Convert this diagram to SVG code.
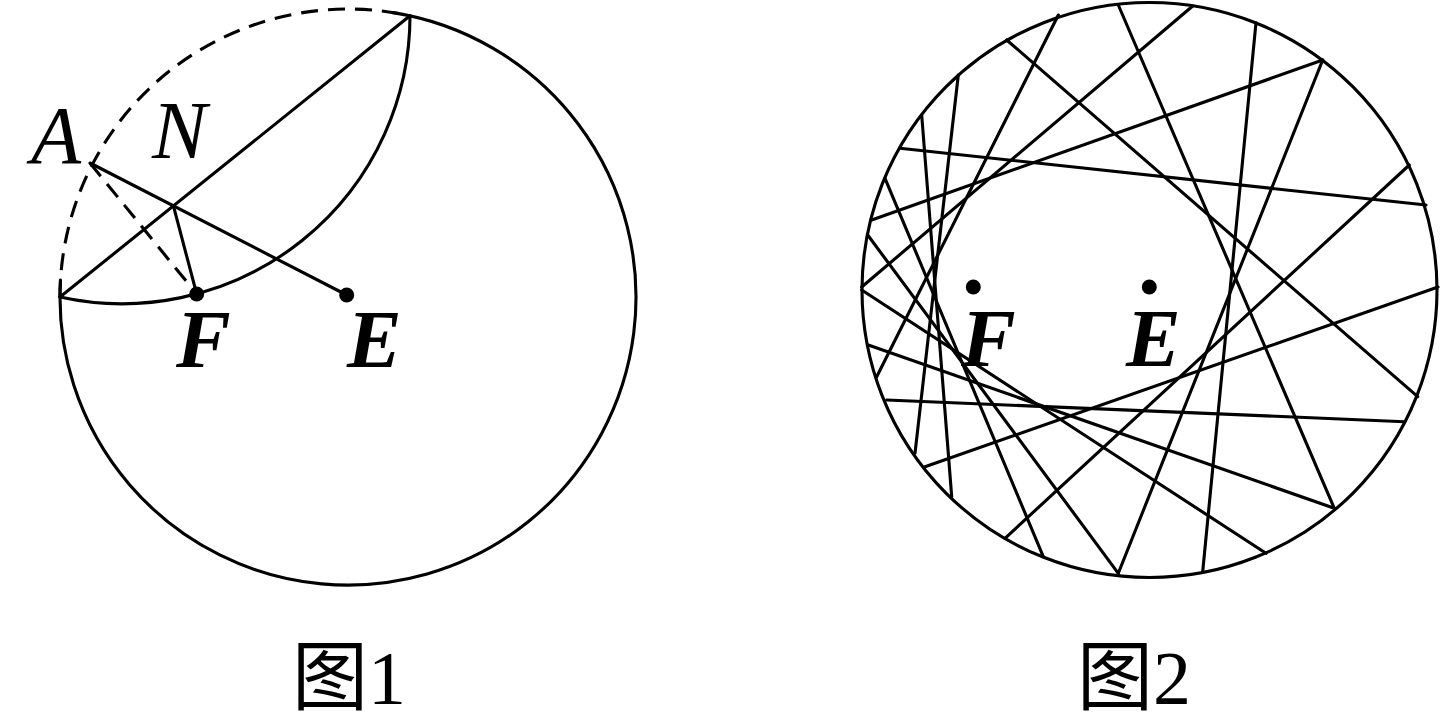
<svg xmlns="http://www.w3.org/2000/svg" width="1441" height="724" viewBox="0 0 1441 724">
<style>
.ln{fill:none;stroke:#000;stroke-width:3.1;stroke-linecap:round}
.dash{fill:none;stroke:#000;stroke-width:3.1;stroke-dasharray:17 10}
.dot{fill:#000}
.lbl{font-family:"Liberation Serif","Times New Roman",serif;font-style:italic;font-size:82px;fill:#000}
.lblb{font-family:"Liberation Serif","Times New Roman",serif;font-style:italic;font-weight:bold;font-size:82px;fill:#000}
.cap{font-family:"Liberation Serif","Noto Sans CJK SC",serif;font-size:76px;fill:#000}
</style>
<rect width="1441" height="724" fill="#fff"/>
<g id="figure1">
  <path class="dash" d="M60,297 A288,288 0 0 1 410,15.8"/>
  <path class="ln" d="M393,12.6 A288,288 0 1 1 60.5,280"/>
  <path class="ln" d="M60,297 L410,15.8"/>
  <path class="ln" d="M410,15.8 A288,288 0 0 1 60,297"/>
  <path class="ln" d="M90,163 L346.7,295"/>
  <path class="dash" d="M90,163 L196.7,294"/>
  <path class="ln" d="M173.4,205.9 L196.7,294"/>
  <circle class="dot" cx="196.7" cy="294" r="7.5"/>
  <circle class="dot" cx="346.7" cy="295" r="7.5"/>
  <text class="lbl" x="31" y="163">A</text>
  <text class="lbl" x="152" y="158">N</text>
  <text class="lblb" x="176" y="367">F</text>
  <text class="lblb" x="347" y="367">E</text>
  <text class="cap" x="292" y="704">图1</text>
</g>
<g id="figure2">
  <circle class="ln" cx="1149.5" cy="290" r="287.5"/>
  <g id="chords">
    <line class="ln" x1="861.7" y1="287" x2="1192.7" y2="6"/>
    <line class="ln" x1="1322.7" y1="60" x2="871.7" y2="220"/>
    <line class="ln" x1="1426" y1="205" x2="900" y2="148.3"/>
    <line class="ln" x1="1006.7" y1="40" x2="1417.7" y2="396.7"/>
    <line class="ln" x1="1118.3" y1="5" x2="1334.3" y2="508.3"/>
    <line class="ln" x1="1256" y1="22.7" x2="1202.7" y2="571.7"/>
    <line class="ln" x1="1322.7" y1="60" x2="1118.3" y2="573.3"/>
    <line class="ln" x1="1409.3" y1="165" x2="1005" y2="538.3"/>
    <line class="ln" x1="1438" y1="287" x2="925" y2="466.7"/>
    <line class="ln" x1="886.7" y1="400" x2="1404.3" y2="421.7"/>
    <line class="ln" x1="868.3" y1="345" x2="1334.3" y2="508.3"/>
    <line class="ln" x1="861.7" y1="290" x2="1266" y2="553.3"/>
    <line class="ln" x1="1058.3" y1="15" x2="876.7" y2="376.7"/>
    <line class="ln" x1="958.3" y1="75" x2="915" y2="453.3"/>
    <line class="ln" x1="921.7" y1="115" x2="951.7" y2="496.7"/>
    <line class="ln" x1="867.7" y1="235" x2="1118.3" y2="573.3"/>
    <line class="ln" x1="885" y1="178.3" x2="1043.3" y2="556.7"/>
  </g>
  <circle class="dot" cx="973.3" cy="287" r="7.5"/>
  <circle class="dot" cx="1149.3" cy="287" r="7.5"/>
  <text class="lblb" x="961" y="366">F</text>
  <text class="lblb" x="1126" y="366">E</text>
  <text class="cap" x="1077" y="704">图2</text>
</g>
</svg>
